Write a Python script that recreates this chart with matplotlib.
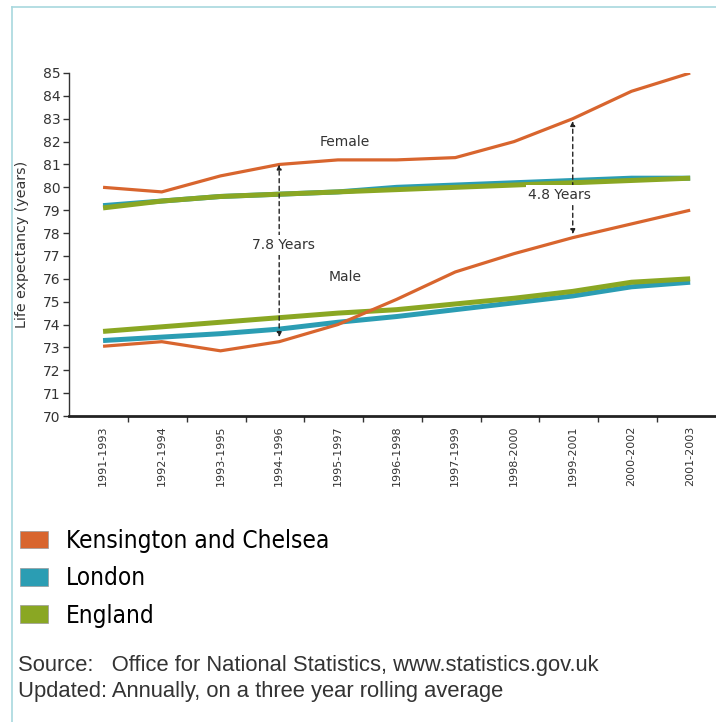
import matplotlib
matplotlib.use('Agg')
import matplotlib.pyplot as plt
from matplotlib.patches import Patch
from matplotlib.lines import Line2D

# periods (3 year rolling)
periods = ['1991-1993', '1992-1994', '1993-1995', '1994-1996', '1995-1997', '1996-1998',
           '1997-1999', '1998-2000', '1999-2001', '2000-2002', '2001-2003']

# female life expectancy
kc_female = [80.0, 79.8, 80.5, 81.0, 81.2, 81.2, 81.3, 82.0, 83.0, 84.2, 85.0]
london_female = [79.2, 79.4, 79.6, 79.7, 79.8, 80.0, 80.1, 80.2, 80.3, 80.4, 80.4]
england_female = [79.1, 79.4, 79.6, 79.7, 79.8, 79.9, 80.0, 80.1, 80.2, 80.3, 80.4]

# male life expectancy
kc_male = [73.05, 73.25, 72.85, 73.25, 74.0, 75.1, 76.3, 77.1, 77.8, 78.4, 79.0]
london_male = [73.3, 73.45, 73.6, 73.8, 74.1, 74.35, 74.65, 74.95, 75.25, 75.65, 75.85]
england_male = [73.7, 73.9, 74.1, 74.3, 74.5, 74.65, 74.9, 75.15, 75.45, 75.85, 76.0]

series_names = ['Kensington and Chelsea', 'London', 'England']
colors = ['#d8652e', '#2b9db3', '#8aa723']

fig = plt.figure(figsize=(7.16, 7.22), dpi=100)
fig.patch.set_facecolor('white')

# light frame lines top / left
fig.add_artist(Line2D([12/716, 12/716], [0, 1 - 7/722], color='#a8d8de', lw=1.2))
fig.add_artist(Line2D([12/716, 1], [1 - 7/722, 1 - 7/722], color='#a8d8de', lw=1.2))

ax = fig.add_axes([69/716, 1 - 416/722, 647/716, 343/722])
x = list(range(len(periods)))

ax.plot(x, london_female, color=colors[1], lw=3.6, solid_capstyle='butt', zorder=2)
ax.plot(x, england_female, color=colors[2], lw=3.6, solid_capstyle='butt', zorder=3)
ax.plot(x, kc_female, color=colors[0], lw=2.3, solid_capstyle='butt', zorder=4)
ax.plot(x, london_male, color=colors[1], lw=3.6, solid_capstyle='butt', zorder=2)
ax.plot(x, england_male, color=colors[2], lw=3.6, solid_capstyle='butt', zorder=3)
ax.plot(x, kc_male, color=colors[0], lw=2.3, solid_capstyle='butt', zorder=4)

ax.set_xlim(-0.58, 10.44)
ax.set_ylim(70, 85)
ax.set_yticks(range(70, 86))
ax.tick_params(axis='y', direction='out', length=4, width=1, colors='#333333',
               labelsize=10, pad=2)
ax.set_xticks(x)
ax.set_xticklabels(periods, rotation=90, fontsize=8, color='#333333')
ax.tick_params(axis='x', length=0, pad=7)
ax.set_xticks([i + 0.43 for i in range(10)], minor=True)
ax.tick_params(axis='x', which='minor', direction='out', length=4, width=1, color='#333333')

ax.spines['top'].set_visible(False)
ax.spines['right'].set_visible(False)
ax.spines['left'].set_color('#333333')
ax.spines['left'].set_linewidth(1.0)
ax.spines['bottom'].set_color('#222222')
ax.spines['bottom'].set_linewidth(2.0)

ax.set_ylabel('Life expectancy (years)', fontsize=10.3, color='#333333', va='center')
ax.yaxis.set_label_coords(-0.073, 0.5)

# annotations
ax.text(4.12, 82.0, 'Female', fontsize=10, color='#333333', ha='center', va='center')
ax.text(4.12, 76.07, 'Male', fontsize=10, color='#333333', ha='center', va='center')

ax.annotate('', xy=(3, 81.0), xytext=(3, 73.45),
            arrowprops=dict(arrowstyle='<|-|>', linestyle=(0, (3, 2.5)), color='#222222',
                            lw=1.0, mutation_scale=7, shrinkA=0, shrinkB=0), zorder=5)
ax.text(3.08, 77.47, '7.8 Years', fontsize=10, color='#333333', ha='center', va='center',
        bbox=dict(facecolor='white', edgecolor='none', pad=2), zorder=6)

ax.annotate('', xy=(8, 82.9), xytext=(8, 77.95),
            arrowprops=dict(arrowstyle='<|-|>', linestyle=(0, (3, 2.5)), color='#222222',
                            lw=1.0, mutation_scale=7, shrinkA=0, shrinkB=0), zorder=5)
ax.text(7.78, 79.66, '4.8 Years', fontsize=10, color='#333333', ha='center', va='center',
        bbox=dict(facecolor='white', edgecolor='none', pad=2), zorder=6)

# legend
handles = [Patch(facecolor=c, edgecolor='#999999', lw=0.5) for c in colors]
fig.legend(handles, series_names, loc='upper left', bbox_to_anchor=(20/716, 1 - 529/722),
           frameon=False,
           prop={'family': ['DejaVu Sans Condensed', 'DejaVu Sans'], 'size': 17.5,
                 'stretch': 'condensed'},
           handlelength=1.15, handleheight=0.75, handletextpad=0.75, labelspacing=0.55,
           borderpad=0, borderaxespad=0)

fig.text(18/716, 1 - 666/722, 'Source:   Office for National Statistics, www.statistics.gov.uk',
         fontsize=15.8, family=['Liberation Sans', 'DejaVu Sans'], color='#333333', va='center')
fig.text(18/716, 1 - 692/722, 'Updated: Annually, on a three year rolling average',
         fontsize=15.8, family=['Liberation Sans', 'DejaVu Sans'], color='#333333', va='center')

fig.savefig('out.png', dpi=100)
